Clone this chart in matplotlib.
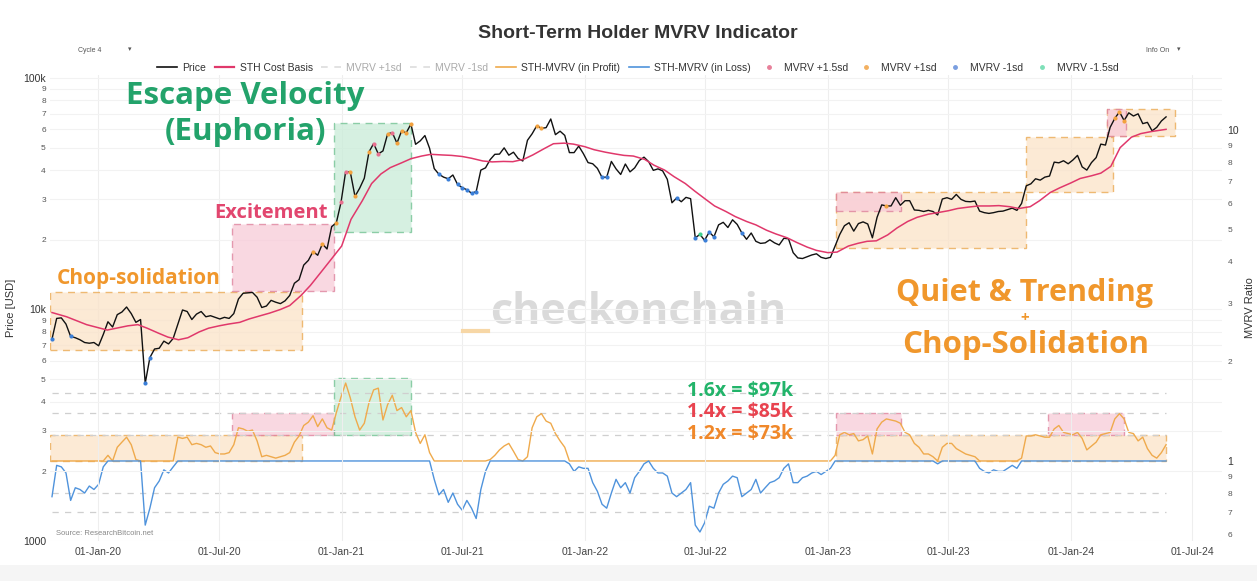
import numpy as np
import pandas as pd
import matplotlib
matplotlib.use("Agg")
import matplotlib.pyplot as plt
import matplotlib.dates as mdates
from matplotlib.patches import Rectangle
from matplotlib.lines import Line2D
from matplotlib.ticker import FixedLocator, FuncFormatter

plt.rcParams['font.family'] = ['Liberation Sans', 'DejaVu Sans']

# weekly closes (Thursdays), 24-Oct-2019 .. 23-May-2024
price_2019 = [7450, 9150, 9200, 8650, 7650, 7550, 7400, 7200, 7150, 7200]
price_2020 = [6970, 7800, 8850, 8400, 9500, 9750, 10250, 9600, 8800, 9050, 4800, 6200, 6750,
              6800, 7300, 7100, 7500, 8650, 9950, 9800, 9050, 9550, 9800, 9300, 9400, 9250,
              9100, 9250, 9150, 9600, 11100, 11750, 11800, 11850, 11300, 10200, 10350, 10950, 10750,
              10600, 10900, 11500, 12980, 13450, 15550, 16300, 17800, 17150, 19200, 18250, 22800, 23700, 29000]
price_2021 = [39400, 39200, 30800, 33400, 36900, 47900, 52100, 47000, 48400, 57300, 58100, 52300,
              59000, 58000, 63200, 51700, 53500, 56400, 49700, 40600, 38400, 37300, 36700, 38100, 34700,
              33600, 32900, 31800, 32300, 40000, 40900, 44400, 46800, 46900, 49900, 46400, 47800, 44900, 43800,
              53800, 57400, 62200, 60600, 61000, 66500, 56900, 58900, 56500, 47600, 47600, 50800, 47100]
price_2022 = [43100, 42600, 40700, 37200, 37300, 43600, 40500, 38300, 42500, 39300, 40900, 44000, 45500,
              43500, 39900, 40500, 39700, 36500, 28900, 30300, 29200, 30500, 30100, 20400, 21100, 19900,
              21600, 20600, 23200, 23800, 22600, 24400, 23300, 21400, 20100, 21400, 19700, 19300, 19400,
              20000, 19400, 19000, 20300, 20200, 17600, 16700, 16600, 16900, 17200, 17400, 16800, 16600]
price_2023 = [16800, 18800, 21100, 23000, 23700, 21800, 23500, 23900, 23400, 20400, 25000, 28300, 28000,
              28000, 30400, 28200, 29500, 29500, 26900, 26800, 26500, 26800, 26500, 25600, 30000, 30400,
              29900, 31400, 29900, 29300, 29200, 29400, 26600, 26200, 26000, 26200, 26500, 26600, 27000,
              27400, 26800, 28700, 34200, 34900, 36700, 36200, 37300, 37700, 43300, 43000, 43900, 42600]
price_2024 = [44200, 46300, 41300, 40000, 43100, 45300, 51800, 51300, 61200, 66900, 71400, 65500, 70700,
              68500, 70000, 63500, 64300, 59100, 61200, 65200, 67900]

mvrv_2019 = [0.78, 0.97, 0.96, 0.92, 0.76, 0.83, 0.82, 0.80, 0.84, 0.82]
mvrv_2020 = [0.85, 0.96, 1.04, 1.00, 1.10, 1.14, 1.18, 1.12, 1.01, 1.00, 0.64, 0.72, 0.83,
             0.87, 0.94, 0.92, 0.96, 1.18, 1.17, 1.18, 1.12, 1.13, 1.12, 1.10, 1.11, 1.06,
             1.05, 1.05, 1.06, 1.12, 1.26, 1.25, 1.23, 1.24, 1.15, 1.03, 1.04, 1.03, 1.02,
             1.03, 1.04, 1.06, 1.14, 1.19, 1.28, 1.31, 1.37, 1.27, 1.34, 1.26, 1.24, 1.40, 1.56]
mvrv_2021 = [1.72, 1.55, 1.36, 1.24, 1.30, 1.50, 1.64, 1.66, 1.33, 1.48, 1.58, 1.42,
             1.45, 1.36, 1.42, 1.22, 1.13, 1.20, 1.06, 0.88, 0.79, 0.82, 0.75, 0.80, 0.74,
             0.71, 0.76, 0.72, 0.67, 0.82, 0.93, 1.01, 1.04, 1.08, 1.11, 1.13, 1.07, 1.01, 1.00,
             1.03, 1.26, 1.36, 1.39, 1.32, 1.30, 1.21, 1.15, 1.10, 0.98, 0.93, 0.96, 0.95]
mvrv_2022 = [0.95, 0.86, 0.81, 0.74, 0.72, 0.80, 0.88, 0.83, 0.86, 0.80, 0.89, 0.93, 0.98,
             1.00, 0.95, 0.92, 0.92, 0.90, 0.80, 0.78, 0.80, 0.82, 0.86, 0.64, 0.61, 0.65,
             0.73, 0.72, 0.80, 0.85, 0.87, 0.90, 0.89, 0.78, 0.80, 0.82, 0.88, 0.80, 0.83,
             0.86, 0.87, 0.89, 0.95, 0.98, 0.86, 0.86, 0.89, 0.90, 0.92, 0.93, 0.91, 0.93]
mvrv_2023 = [0.95, 1.04, 1.20, 1.22, 1.20, 1.21, 1.15, 1.16, 1.19, 1.05, 1.25, 1.31, 1.34,
             1.33, 1.32, 1.30, 1.22, 1.20, 1.13, 1.10, 1.05, 1.05, 1.03, 0.98, 1.10, 1.13,
             1.13, 1.09, 1.07, 1.05, 1.04, 1.03, 0.95, 0.93, 0.92, 0.94, 0.93, 0.93, 0.95,
             0.97, 0.95, 1.02, 1.19, 1.19, 1.20, 1.19, 1.18, 1.18, 1.25, 1.28, 1.22, 1.21]
mvrv_2024 = [1.20, 1.22, 1.17, 1.08, 1.11, 1.14, 1.20, 1.21, 1.22, 1.34, 1.39, 1.34, 1.22,
             1.21, 1.15, 1.18, 1.09, 1.04, 1.02, 1.06, 1.12]

# short-term holder cost basis
sth_dates = ["2019-10-24", "2019-11-15", "2019-12-15", "2020-01-15", "2020-02-15", "2020-03-01",
             "2020-03-15", "2020-04-01", "2020-04-15", "2020-05-01", "2020-05-15", "2020-06-01",
             "2020-06-15", "2020-07-01", "2020-07-15", "2020-08-01", "2020-08-15", "2020-09-01",
             "2020-09-15", "2020-10-01", "2020-10-15", "2020-11-01", "2020-11-15", "2020-12-01",
             "2020-12-15", "2021-01-01", "2021-01-15", "2021-02-01", "2021-02-15", "2021-03-01",
             "2021-03-15", "2021-04-01", "2021-04-15", "2021-05-01", "2021-05-15", "2021-06-01",
             "2021-06-15", "2021-07-01", "2021-07-15", "2021-08-01", "2021-08-15", "2021-09-01",
             "2021-09-15", "2021-10-01", "2021-10-15", "2021-11-01", "2021-11-15", "2021-12-01",
             "2021-12-15", "2022-01-01", "2022-01-15", "2022-02-01", "2022-02-15", "2022-03-01",
             "2022-03-15", "2022-04-01", "2022-04-15", "2022-05-01", "2022-05-15", "2022-06-01",
             "2022-06-15", "2022-07-01", "2022-07-15", "2022-08-01", "2022-08-15", "2022-09-01",
             "2022-09-15", "2022-10-01", "2022-10-15", "2022-11-01", "2022-11-15", "2022-12-01",
             "2022-12-15", "2023-01-01", "2023-01-15", "2023-02-01", "2023-02-15", "2023-03-01",
             "2023-03-15", "2023-04-01", "2023-04-15", "2023-05-01", "2023-05-15", "2023-06-01",
             "2023-06-15", "2023-07-01", "2023-07-15", "2023-08-01", "2023-08-15", "2023-09-01",
             "2023-09-15", "2023-10-01", "2023-10-15", "2023-11-01", "2023-11-15", "2023-12-01",
             "2023-12-15", "2024-01-01", "2024-01-15", "2024-02-01", "2024-02-15", "2024-03-01",
             "2024-03-15", "2024-04-01", "2024-04-15", "2024-05-01", "2024-05-23"]
sth_cost = [9700, 9300, 8600, 8150, 8500, 8600, 8300, 7900, 7600, 7400, 7550, 8000,
            8300, 8500, 8650, 8800, 9100, 9400, 9650, 10000, 10400, 11500, 12700, 14500,
            16300, 18800, 24500, 29500, 35000, 38500, 41000, 43000, 44800, 46000, 46800, 46500,
            46300, 45800, 45000, 43800, 43400, 43600, 43500, 44500, 46500, 49500, 52000, 52300,
            51800, 50500, 49000, 47800, 47000, 46300, 46000, 44500, 42000, 40000, 37500, 35000,
            32500, 30000, 28000, 26500, 25200, 24000, 23200, 22000, 21200, 20400, 19500, 18600,
            18000, 17600, 17700, 18800, 19300, 19700, 19800, 21000, 22500, 24000, 25000, 25800,
            26200, 26700, 27300, 27700, 28000, 28000, 28100, 27800, 27300, 27800, 29500, 32000,
            33500, 35200, 36800, 37800, 38800, 41500, 50000, 55500, 57500, 58700, 60000]

# regime zones: (colour, start, end, low, high)
price_zones = [("orange", "2019-10-21", "2020-11-02", 6700, 11900),
               ("pink", "2020-07-20", "2020-12-20", 12000, 23400),
               ("green", "2020-12-20", "2021-04-15", 21600, 64000),
               ("orange", "2023-01-13", "2023-10-26", 18400, 32200),
               ("pink", "2023-01-13", "2023-04-21", 26500, 32200),
               ("orange", "2023-10-26", "2024-03-04", 32200, 55600),
               ("orange", "2024-02-24", "2024-06-06", 56300, 73200),
               ("pink", "2024-02-24", "2024-03-24", 56300, 73200)]
mvrv_zones = [("orange", "2019-10-21", "2020-11-02", 1.0, 1.2),
              ("pink", "2020-07-20", "2020-12-20", 1.2, 1.4),
              ("green", "2020-12-20", "2021-04-15", 1.2, 1.78),
              ("orange", "2023-01-13", "2024-05-23", 1.0, 1.2),
              ("pink", "2023-01-13", "2023-04-21", 1.2, 1.4),
              ("pink", "2023-11-28", "2024-03-21", 1.2, 1.4)]
guide_levels = [1.6, 1.4, 1.2, 0.8, 0.7]

price = np.array(price_2019 + price_2020 + price_2021 + price_2022 + price_2023 + price_2024, dtype=float)
mvrv = np.array(mvrv_2019 + mvrv_2020 + mvrv_2021 + mvrv_2022 + mvrv_2023 + mvrv_2024)
dates = pd.date_range("2019-10-24", periods=len(price), freq="7D")
sth_dates = pd.to_datetime(sth_dates)

zone_fill = {"orange": "#fbe3c8", "pink": "#f8cbd8", "green": "#c9ecd8"}
zone_edge = {"orange": "#e9a54a", "pink": "#dc7d98", "green": "#6cbf8e"}

fig = plt.figure(figsize=(12.57, 5.81), dpi=100)
ax = fig.add_axes([50 / 1257, 1 - 541 / 581, 1172 / 1257, 466 / 581])
ax2 = ax.twinx()

ax.set_yscale("log")
ax2.set_yscale("log")
ax.set_ylim(1000, 103000)
ax2.set_ylim(0.573, 14.67)
ax.set_xlim(pd.Timestamp("2019-10-21"), pd.Timestamp("2024-08-15"))

for a in (ax, ax2):
    for s in a.spines.values():
        s.set_visible(False)

# grid
ax.grid(True, which="both", axis="y", color="#f2f2f2", lw=0.8)
ax.grid(True, which="major", axis="x", color="#eeeeee", lw=0.8)
ax.set_axisbelow(True)

# watermark
fig.text(490 / 1257, 1 - 312 / 581, "checkonchain", fontsize=31, fontweight="bold",
         family="Open Sans", color="#dadada", va="center", ha="left", zorder=0)
fig.add_artist(Line2D([463 / 1257, 488 / 1257], [1 - 331 / 581] * 2, color="#f7d7a6", lw=3))

# zones
for col, s, e, lo, hi in price_zones:
    x0 = mdates.date2num(pd.Timestamp(s))
    x1 = mdates.date2num(pd.Timestamp(e))
    ax.add_patch(Rectangle((x0, lo), x1 - x0, hi - lo, facecolor=zone_fill[col], alpha=0.75,
                           edgecolor=zone_edge[col], lw=1, ls=(0, (5, 4)), zorder=1))
for col, s, e, lo, hi in mvrv_zones:
    x0 = mdates.date2num(pd.Timestamp(s))
    x1 = mdates.date2num(pd.Timestamp(e))
    ax2.add_patch(Rectangle((x0, lo), x1 - x0, hi - lo, facecolor=zone_fill[col], alpha=0.75,
                            edgecolor=zone_edge[col], lw=1, ls=(0, (5, 4)), zorder=1))

for lvl in guide_levels:
    ax2.plot([dates[0], dates[-1]], [lvl, lvl], color="#cfcfcf", lw=0.9, ls=(0, (5, 5)), zorder=2)

# mvrv lines
ax2.plot(dates, np.maximum(mvrv, 1), color="#efaa4c", lw=1.0, zorder=3)
ax2.plot(dates, np.minimum(mvrv, 1), color="#4f93dc", lw=1.0, zorder=3)

# price and cost basis
ax.plot(dates, price, color="#111111", lw=1.0, zorder=4)
ax.plot(sth_dates, sth_cost, color="#e0386b", lw=1.1, zorder=4)
ax.set_zorder(ax2.get_zorder() + 1)
ax.patch.set_visible(False)

hi2 = mvrv > 1.55
hi1 = (mvrv > 1.33) & ~hi2
lo2 = mvrv < 0.63
lo1 = (mvrv < 0.80) & ~lo2
ax.scatter(dates[hi2], price[hi2], s=9, color="#e8708f", zorder=5, lw=0)
ax.scatter(dates[hi1], price[hi1], s=9, color="#f3a23e", zorder=5, lw=0)
ax.scatter(dates[lo1], price[lo1], s=9, color="#3b7fd8", zorder=5, lw=0)
ax.scatter(dates[lo2], price[lo2], s=9, color="#3fcf8e", zorder=5, lw=0)

# axes ticks
ax.xaxis.set_major_locator(mdates.MonthLocator(bymonth=[1, 7]))
ax.xaxis.set_major_formatter(mdates.DateFormatter("%d-%b-%y"))
ax.tick_params(axis="x", length=0, labelsize=7.5, labelcolor="#444444", pad=4)

left_major = [1000, 10000, 100000]
left_minor = [m * d for d in (1000, 10000) for m in range(2, 10)]
ax.yaxis.set_major_locator(FixedLocator(left_major))
ax.yaxis.set_minor_locator(FixedLocator(left_minor))
ax.yaxis.set_major_formatter(FuncFormatter(lambda v, p: {1000: "1000", 10000: "10k", 100000: "100k"}[int(round(v))]))
ax.yaxis.set_minor_formatter(FuncFormatter(lambda v, p: str(int(round(v / 10 ** np.floor(np.log10(v) + 1e-9))))))
ax.tick_params(axis="y", which="major", length=0, labelsize=7.5, labelcolor="#333333", pad=3)
ax.tick_params(axis="y", which="minor", length=0, labelsize=6, labelcolor="#555555", pad=3)

right_major = [1, 10]
right_minor = [0.6, 0.7, 0.8, 0.9] + list(range(2, 10))
ax2.yaxis.set_major_locator(FixedLocator(right_major))
ax2.yaxis.set_minor_locator(FixedLocator(right_minor))
ax2.yaxis.set_major_formatter(FuncFormatter(lambda v, p: str(int(round(v)))))
ax2.yaxis.set_minor_formatter(FuncFormatter(lambda v, p: str(int(round(v * 10))) if v < 1 else str(int(round(v)))))
ax2.tick_params(axis="y", which="major", length=0, labelsize=7.5, labelcolor="#333333", pad=4)
ax2.tick_params(axis="y", which="minor", length=0, labelsize=6, labelcolor="#555555", pad=4)

ax.set_ylabel("Price [USD]", fontsize=8, color="#333333", labelpad=5)
ax2.set_ylabel("MVRV Ratio", fontsize=8, color="#333333", labelpad=4)

ax.text(0.005, 0.012, "Source: ResearchBitcoin.net", transform=ax.transAxes, fontsize=5.5, color="#888888")

# title and controls
fig.text(638 / 1257, 1 - 33 / 581, "Short-Term Holder MVRV Indicator", ha="center", va="center",
         fontsize=14, fontweight="bold", color="#333333")
fig.text(78 / 1257, 1 - 50 / 581, "Cycle 4", fontsize=5, color="#555555", va="center")
fig.text(128 / 1257, 1 - 50 / 581, "\u25be", fontsize=5, color="#555555", va="center")
fig.text(1146 / 1257, 1 - 50 / 581, "Info On", fontsize=5, color="#555555", va="center")
fig.text(1177 / 1257, 1 - 50 / 581, "\u25be", fontsize=5, color="#555555", va="center")

# legend
handles = [Line2D([], [], color="#111111", lw=1.2),
           Line2D([], [], color="#e0386b", lw=1.6),
           Line2D([], [], color="#dddddd", lw=1.2, ls=(0, (4, 4))),
           Line2D([], [], color="#dddddd", lw=1.2, ls=(0, (4, 4))),
           Line2D([], [], color="#efaa4c", lw=1.2),
           Line2D([], [], color="#4f93dc", lw=1.2),
           Line2D([], [], color="#e8809a", marker="o", ms=2.5, lw=0),
           Line2D([], [], color="#f3b060", marker="o", ms=2.5, lw=0),
           Line2D([], [], color="#7a9ee0", marker="o", ms=2.5, lw=0),
           Line2D([], [], color="#7ee0b8", marker="o", ms=2.5, lw=0)]
labels = ["Price", "STH Cost Basis", "MVRV +1sd", "MVRV -1sd", "STH-MVRV (in Profit)",
          "STH-MVRV (in Loss)", "MVRV +1.5sd", "MVRV +1sd", "MVRV -1sd", "MVRV -1.5sd"]
leg = fig.legend(handles, labels, loc="center", bbox_to_anchor=(638 / 1257, 1 - 68 / 581), ncol=10,
                 frameon=False, fontsize=7.5, handlelength=1.9, handletextpad=0.5, columnspacing=0.8)
for i, t in enumerate(leg.get_texts()):
    t.set_color("#aaaaaa" if i in (2, 3) else "#333333")

# annotations
ann = dict(family="Open Sans", fontweight="bold", ha="center", va="center")
fig.text(245 / 1257, 1 - 96 / 581, "Escape Velocity", fontsize=22.5, color="#23a36b", **ann)
fig.text(245 / 1257, 1 - 132 / 581, "(Euphoria)", fontsize=22.5, color="#23a36b", **ann)
fig.text(271 / 1257, 1 - 213 / 581, "Excitement", fontsize=14.5, color="#e2466f", **ann)
fig.text(139 / 1257, 1 - 278 / 581, "Chop-solidation", fontsize=15, color="#f0972c", **ann)
fig.text(1025 / 1257, 1 - 293 / 581, "Quiet & Trending", fontsize=22, color="#f0972c", **ann)
fig.text(1025 / 1257, 1 - 318 / 581, "+", fontsize=11, color="#f0972c", **ann)
fig.text(1026 / 1257, 1 - 345 / 581, "Chop-Solidation", fontsize=22.5, color="#f0972c", **ann)
fig.text(740 / 1257, 1 - 391 / 581, "1.6x = $97k", fontsize=14, color="#22b46a", **ann)
fig.text(740 / 1257, 1 - 412 / 581, "1.4x = $85k", fontsize=14, color="#e8434f", **ann)
fig.text(740 / 1257, 1 - 434 / 581, "1.2x = $73k", fontsize=14, color="#f0882a", **ann)

fig.patches.append(Rectangle((0, 0), 1, 16 / 581, transform=fig.transFigure, facecolor="#f5f5f5",
                             edgecolor="none", zorder=-1))

fig.savefig("out.png", dpi=100)
